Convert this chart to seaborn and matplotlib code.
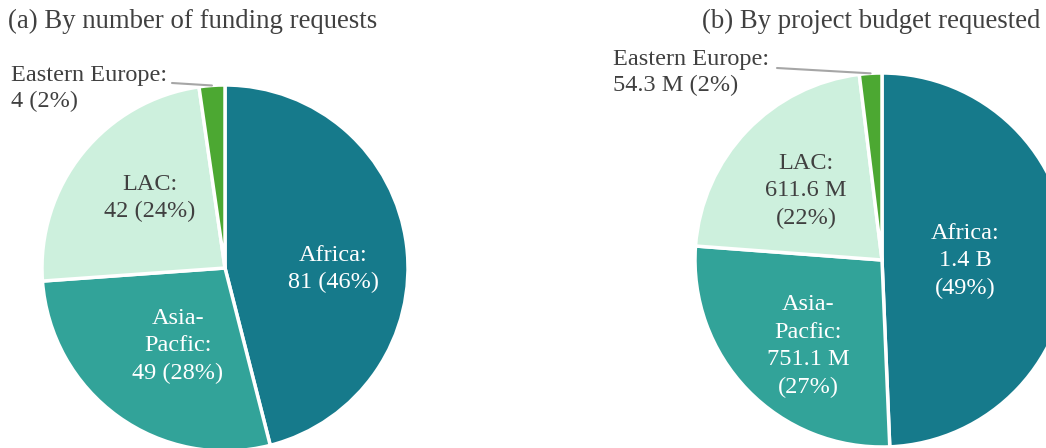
import numpy as np
import seaborn as sns
import matplotlib.pyplot as plt

# data
regions = ['Africa', 'Asia-Pacfic', 'LAC', 'Eastern Europe']
requests = [81, 49, 42, 4]
budget_m = [1380.0, 751.1, 611.6, 54.3]  # in millions
colors = ['#167A8B', '#32A399', '#CDF0DD', '#4CA832']
label_colors = ['white', 'white', '#404040']

sns.set_theme(style='white')
plt.rcParams['font.family'] = ['Liberation Serif', 'DejaVu Serif']
text_col = '#404040'


def fmt_money(v):
    if v >= 1000:
        return '{:.1f} B'.format(v / 1000)
    return '{:.1f} M'.format(v)


fig = plt.figure(figsize=(10.46, 4.48), dpi=100)
ax = fig.add_axes([0, 0, 1, 1])
H = 448


def draw_pie(values, center, radius, inner_labels, label_pos, ee_label, ee_text_xy, ee_line_start):
    wedges, _ = ax.pie(values, colors=colors, startangle=90, counterclock=False,
                       center=center, radius=radius,
                       wedgeprops=dict(edgecolor='white', linewidth=2.5))
    for i in range(3):
        ax.text(label_pos[i][0], H - label_pos[i][1], inner_labels[i], ha='center',
                va='center', fontsize=17.5, color=label_colors[i], linespacing=1.42)
    # small slice gets an outside label with a leader line
    w = wedges[3]
    mid = np.deg2rad((w.theta1 + w.theta2) / 2)
    px = center[0] + radius * np.cos(mid)
    py = center[1] + radius * np.sin(mid)
    ax.plot([ee_line_start[0], px], [ee_line_start[1], py], color='#A6A6A6', lw=1.5)
    ax.text(ee_text_xy[0], ee_text_xy[1], ee_label, ha='left', va='top', fontsize=17.5,
            color=text_col, linespacing=1.3)


# (a) counts
tot = sum(requests)
pct_a = [round(v / tot * 100) for v in requests]
lab_a = ['Africa:\n{} ({}%)'.format(requests[0], pct_a[0]),
         'Asia-\nPacfic:\n{} ({}%)'.format(requests[1], pct_a[1]),
         'LAC:\n{} ({}%)'.format(requests[2], pct_a[2])]
ee_a = 'Eastern Europe:\n{} ({}%)'.format(requests[3], pct_a[3])
draw_pie(requests, (225, H - 268), 183, lab_a, [(333, 269), (178, 346), (150, 198)],
         ee_a, (11, H - 65), (172, H - 83))

# (b) budget
tot = sum(budget_m)
pct_b = [round(v / tot * 100) for v in budget_m]
lab_b = ['Africa:\n{}\n({}%)'.format(fmt_money(budget_m[0]), pct_b[0]),
         'Asia-\nPacfic:\n{}\n({}%)'.format(fmt_money(budget_m[1]), pct_b[1]),
         'LAC:\n{}\n({}%)'.format(fmt_money(budget_m[2]), pct_b[2])]
ee_b = 'Eastern Europe:\n{} ({}%)'.format(fmt_money(budget_m[3]), pct_b[3])
draw_pie(budget_m, (882, H - 260), 187, lab_b, [(965, 261), (808, 346), (806, 191)],
         ee_b, (613, H - 49), (777, H - 68))

ax.text(8, H - 21, '(a) By number of funding requests', ha='left', va='center',
        fontsize=19.3, color=text_col)
ax.text(1040, H - 21, '(b) By project budget requested', ha='right', va='center',
        fontsize=19.3, color=text_col)

ax.set_xlim(0, 1046)
ax.set_ylim(0, H)
ax.set_aspect('auto')
ax.axis('off')

fig.savefig('out.png', dpi=100)
